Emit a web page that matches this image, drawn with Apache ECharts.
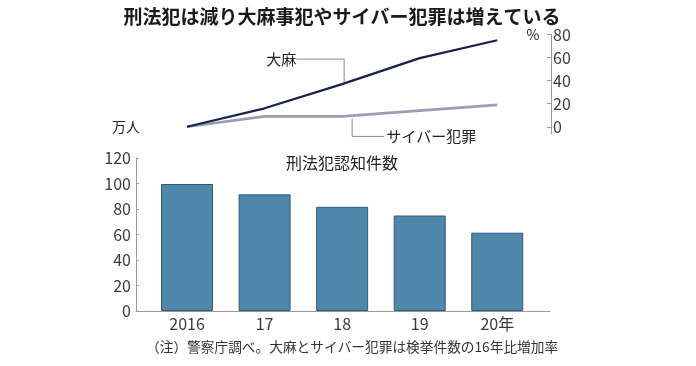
<!DOCTYPE html>
<html>
<head>
<meta charset="utf-8">
<script src="https://cdn.jsdelivr.net/npm/echarts@6/dist/echarts.min.js"></script>
<style>
html,body{margin:0;padding:0;background:#fff;}
#c{width:696px;height:366px;}
</style>
</head>
<body>
<div id="c"></div>
<script>
// ---- data ----
const years = [2016, 2017, 2018, 2019, 2020];
const xLabels = ['2016', '17', '18', '19', '20年'];
const crimeCounts = [99.6, 91.5, 81.7, 74.9, 61.4];   // 刑法犯認知件数 (万件)
const cannabis = [0, 16, 37, 59.5, 75];                // 大麻 16年比増加率 (%)
const cyber = [0, 9, 9, 14, 19];                        // サイバー犯罪 16年比増加率 (%)
const barTicks = [0, 20, 40, 60, 80, 100, 120];
const lineTicks = [0, 20, 40, 60, 80];

const NUM = '"Liberation Sans Narrow","Noto Sans CJK JP",sans-serif';
const JP = '"Noto Sans CJK JP",sans-serif';
const axisGray = '#9a9a9a';

const chart = echarts.init(document.getElementById('c'), null, {renderer: 'canvas'});

const xMin = 2015.342, xMax = 2020.68;
const labelMap = {};
years.forEach((y, i) => labelMap[y] = xLabels[i]);

const option = {
  animation: false,
  backgroundColor: '#fff',
  title: {
    text: '刑法犯は減り大麻事犯やサイバー犯罪は増えている',
    left: 337, top: 2, textAlign: 'center',
    textStyle: {fontFamily: JP, fontSize: 19, fontWeight: 'bold', color: '#1a1a1a'}
  },
  grid: [
    {left: 136, width: 414, top: 34.5, height: 99.2},
    {left: 136, width: 414, top: 158, height: 153}
  ],
  xAxis: [
    {gridIndex: 0, type: 'value', min: xMin, max: xMax, show: false},
    {gridIndex: 1, type: 'value', min: xMin, max: xMax,
      splitLine: {show: false},
      axisLine: {show: true, lineStyle: {color: axisGray, width: 1}},
      axisTick: {show: false},
      axisLabel: {customValues: years, margin: 5, color: '#3a3a3a', fontFamily: NUM, fontSize: 16,
        formatter: v => labelMap[Math.round(v)] || ''}
    }
  ],
  yAxis: [
    {gridIndex: 0, type: 'value', position: 'right', offset: 1, min: -6, max: 80,
      splitLine: {show: false},
      axisLine: {show: true, lineStyle: {color: axisGray, width: 1}},
      axisTick: {show: true, inside: true, length: 4, customValues: lineTicks, lineStyle: {color: axisGray}},
      axisLabel: {customValues: lineTicks, margin: 2, color: '#3a3a3a', fontFamily: NUM, fontSize: 16}
    },
    {gridIndex: 1, type: 'value', min: 0, max: 120, interval: 20,
      splitLine: {show: false},
      axisLine: {show: true, lineStyle: {color: axisGray, width: 1}},
      axisTick: {show: true, inside: true, length: 3, lineStyle: {color: axisGray}},
      axisLabel: {margin: 5, color: '#3a3a3a', fontFamily: NUM, fontSize: 16}
    }
  ],
  series: [
    {name: '刑法犯認知件数', type: 'bar', xAxisIndex: 1, yAxisIndex: 1, barWidth: 52,
      data: years.map((y, i) => [y, crimeCounts[i]]),
      itemStyle: {color: '#4f87ab', borderColor: '#2f5a76', borderWidth: 1}
    },
    {name: 'サイバー犯罪', type: 'line', xAxisIndex: 0, yAxisIndex: 0,
      data: years.map((y, i) => [y, cyber[i]]),
      symbol: 'none', lineStyle: {color: '#9d9db2', width: 2.6}
    },
    {name: '大麻', type: 'line', xAxisIndex: 0, yAxisIndex: 0,
      data: years.map((y, i) => [y, cannabis[i]]),
      symbol: 'none', lineStyle: {color: '#18214d', width: 2.2}
    }
  ]
};
chart.setOption(option);

// annotations computed from the scales
const pC = chart.convertToPixel({gridIndex: 0}, [years[2], cannabis[2]]);
const pY = chart.convertToPixel({gridIndex: 0}, [years[2], cyber[2]]);
const pTop = chart.convertToPixel({gridIndex: 0}, [xMax, 80]);
const cx = pC[0] + 2, cy = pC[1] - 1;
const yx = pY[0] + 10, yy = pY[1] + 2;
const leader = {stroke: '#8a8a8a', lineWidth: 1, fill: null};
const txt = (x, y, s, size, align, color) => ({type: 'text', x: x, y: y,
  style: {text: s, fontFamily: JP, fontSize: size, fill: color || '#222', align: align || 'center', verticalAlign: 'middle'}});

chart.setOption({
  graphic: [
    {type: 'polyline', shape: {points: [[cx, cy], [cx, cy - 24], [cx - 48, cy - 24]]}, style: leader},
    txt(cx - 63, cy - 24, '大麻', 15),
    {type: 'polyline', shape: {points: [[yx, yy], [yx, yy + 18], [yx + 32, yy + 18]]}, style: leader},
    txt(yx + 34, yy + 18, 'サイバー犯罪', 15, 'left'),
    txt(pTop[0] - 17, pTop[1], '%', 14),
    txt(126, 127, '万人', 14),
    txt(342, 163, '刑法犯認知件数', 16),
    txt(146, 347, '（注）警察庁調べ。大麻とサイバー犯罪は検挙件数の16年比増加率', 13.7, 'left', '#333')
  ]
});
</script>
</body>
</html>
